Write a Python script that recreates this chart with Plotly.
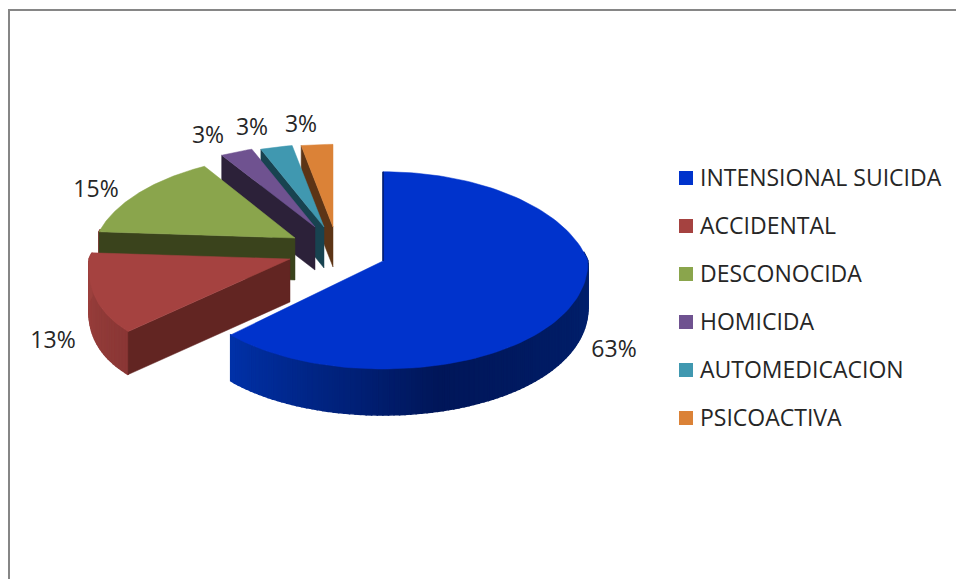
import numpy as np
import plotly.graph_objects as go

# Data
categories = ["INTENSIONAL SUICIDA", "ACCIDENTAL", "DESCONOCIDA", "HOMICIDA", "AUTOMEDICACION", "PSICOACTIVA"]
values = [63, 13, 15, 3, 3, 3]

# Styles / layout (pixel space of the 956x579 page)
top_colors = ["#0033CC", "#A54240", "#8AA54C", "#6F5290", "#4098B0", "#DB8237"]
side_colors = ["#001F7A", "#622522", "#3A431C", "#2C2139", "#184350", "#5C3416"]
apex_x = [383, 290, 295, 315, 324, 333]
apex_y = [261, 259, 238, 227, 227, 227]
back_rx = [205, 201, 199, 205, 205, 205]
front_rx = [212, 238, 199, 205, 205, 205]
back_ry = [108, 100, 100, 100, 100, 100]
front_ry = [108, 106, 106, 106, 106, 106]
depth = [46, 43, 42, 43, 41, 40]
label_x = [614, 53, 96, 208, 252, 301]
label_y = [351, 342, 191, 137, 129, 126]
BACK_K = 0.21
LEG_X, LEG_TEXT_X, LEG_Y0, LEG_DY = 686, 700, 178, 48
LEG_TEXT_DY = 2
FONT = "Open Sans"
TEXT_COLOR = "#262626"


def project(theta_deg, i):
    t = np.radians(np.asarray(theta_deg, dtype=float))
    u, v = np.sin(t), np.cos(t)
    back = v >= 0
    xr = np.where(back, back_rx[i] * u / (1 + BACK_K * v),
                  (back_rx[i] + (front_rx[i] - back_rx[i]) * np.abs(v) ** 1.5) * u)
    yr = np.where(back, -back_ry[i] * v / (1 + BACK_K * v), -front_ry[i] * v)
    return apex_x[i] + xr, apex_y[i] + yr


def poly(fig, x, y, color, lw=0.5):
    fig.add_trace(go.Scatter(x=list(x) + [x[0]], y=list(y) + [y[0]], mode="lines", fill="toself",
                             fillcolor=color, line=dict(color=color, width=lw),
                             hoverinfo="skip", showlegend=False))


def mix(a, b, f):
    a = [int(a[j:j + 2], 16) for j in (1, 3, 5)]
    b = [int(b[j:j + 2], 16) for j in (1, 3, 5)]
    return "#%02x%02x%02x" % tuple(int(round(p + (q - p) * f)) for p, q in zip(a, b))


edges = np.concatenate([[0], np.cumsum(values)]) * 360.0 / sum(values)
fig = go.Figure()

for i in reversed(range(len(values))):
    a0, a1 = edges[i], edges[i + 1]
    ax, ay = apex_x[i], apex_y[i]
    d = depth[i]
    # rim (front part of the outer wall), shaded by angle
    lo, hi = max(a0, 85), min(a1, 275)
    if hi > lo:
        steps = np.linspace(lo, hi, max(6, int((hi - lo) / 1.5)) + 1)
        for s0, s1 in zip(steps[:-1], steps[1:]):
            xs, ys = project([s0, s1], i)
            mid = (s0 + s1) / 2
            if i == 0:
                f = (mid - 90) / (226.8 - 90)
                c = mix("#00216E", "#001659", f / 0.55) if f < 0.55 else mix("#001659", "#0031A8", (f - 0.55) / 0.45)
            else:
                f = (mid - a0) / (a1 - a0)
                c = mix("#8A3735", "#9C403D", f)
            poly(fig, [xs[0], xs[1], xs[1], xs[0]], [ys[0], ys[1], ys[1] + d, ys[0] + d], c, 1.5)
    # cut wall of the exploded slices
    if i > 0:
        ex, ey = project([a0], i)
        poly(fig, [ax, ex[0], ex[0], ax], [ay, ey[0], ey[0] + d, ay + d], side_colors[i])
    # top face
    tx, ty = project(np.linspace(a0, a1, 120), i)
    poly(fig, [ax] + list(tx), [ay] + list(ty), top_colors[i])
    if i == 0:
        ex, ey = project([a0], i)
        fig.add_trace(go.Scatter(x=[ex[0], ax], y=[ey[0], ay], mode="lines",
                                 line=dict(color="#001A66", width=1.5), hoverinfo="skip", showlegend=False))

# percentage labels
fig.add_trace(go.Scatter(x=label_x, y=label_y, mode="text", text=[f"{v}%" for v in values],
                         textposition="middle center", textfont=dict(family=FONT, size=23, color=TEXT_COLOR),
                         hoverinfo="skip", showlegend=False))

# legend
for i, name in enumerate(categories):
    fig.add_trace(go.Scatter(x=[LEG_X], y=[LEG_Y0 + LEG_DY * i], mode="markers",
                             marker=dict(symbol="square", size=14, color=top_colors[i]),
                             hoverinfo="skip", showlegend=False))
    fig.add_trace(go.Scatter(x=[LEG_TEXT_X], y=[LEG_Y0 + LEG_DY * i + LEG_TEXT_DY], mode="text", text=[name],
                             textposition="middle right",
                             textfont=dict(family=FONT, size=23, color=TEXT_COLOR),
                             hoverinfo="skip", showlegend=False))

fig.update_layout(
    width=956, height=579, autosize=False, margin=dict(l=0, r=0, t=0, b=0),
    paper_bgcolor="white", plot_bgcolor="white", showlegend=False,
    xaxis=dict(range=[0, 956], visible=False, fixedrange=True),
    yaxis=dict(range=[579, 0], visible=False, fixedrange=True),
    shapes=[dict(type="rect", xref="x", yref="y", x0=9, y0=10, x1=990, y1=620,
                 line=dict(color="#868686", width=2), layer="above")],
)
fig.write_html("out.html", config=dict(displayModeBar=False),
               post_script="document.body.style.margin='0';document.body.style.overflow='hidden';")
